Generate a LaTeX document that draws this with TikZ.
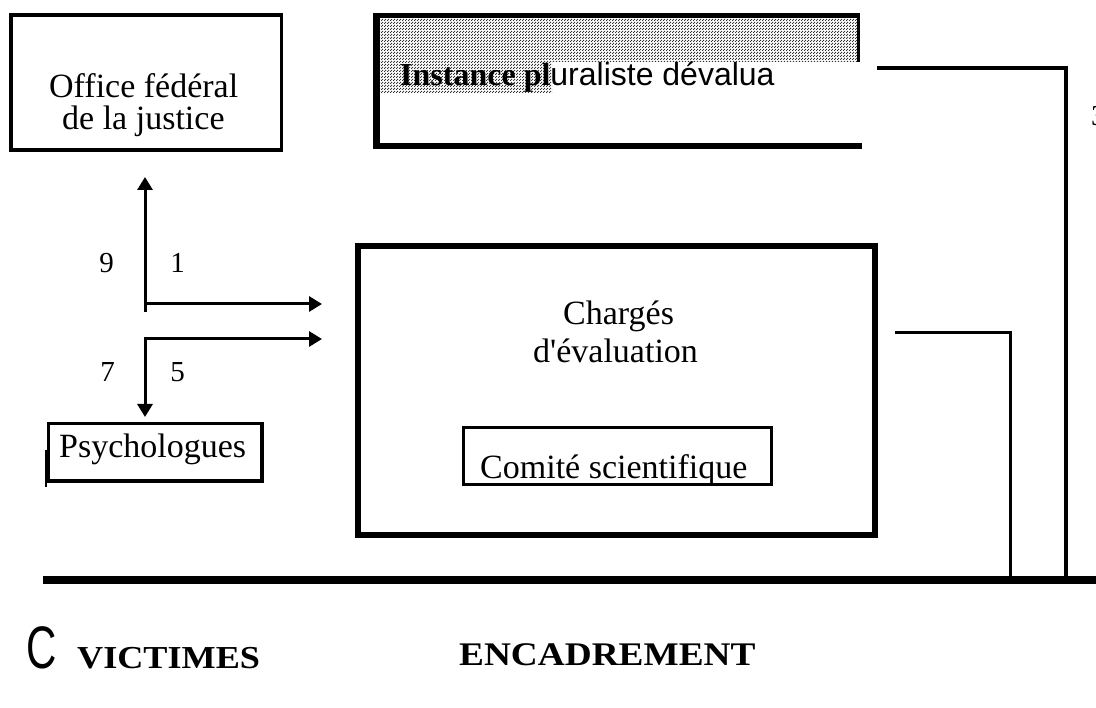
\documentclass[tikz,border=0pt]{standalone}
\usepackage{fontspec}
\setmainfont{Liberation Serif}[Ligatures=TeXOff]
\newfontfamily\arialf{Liberation Sans}
\newfontfamily\narrowsans[FakeStretch=0.7]{Liberation Sans}
\newfontfamily\wideserif[FakeStretch=1.13]{Liberation Serif}
\usetikzlibrary{arrows.meta,patterns.meta}
\pgfdeclarepattern{
  name=finedots,
  parameters={},
  bottom left={\pgfpoint{0pt}{0pt}},
  top right={\pgfpoint{3pt}{3pt}},
  tile size={\pgfpoint{3pt}{3pt}},
  code={
    \pgfpathrectangle{\pgfpoint{0pt}{0pt}}{\pgfpoint{1.4pt}{1.4pt}}
    \pgfpathrectangle{\pgfpoint{1.5pt}{1.5pt}}{\pgfpoint{1.4pt}{1.4pt}}
    \pgfusepath{fill}
  }
}
\begin{document}
\begin{tikzpicture}[x=1pt,y=-1pt,
  txt/.style={inner sep=0pt, anchor=base west, font=\fontsize{34}{38}\selectfont},
  dig/.style={inner sep=0pt, anchor=base, font=\fontsize{29}{32}\selectfont},
  thinbox/.style={draw, line width=3.3pt, inner sep=0pt},
  thickbox/.style={draw, line width=6pt, inner sep=0pt},
  arr/.style={line width=3pt, -{Triangle[length=13pt,width=15pt]}},
  conn/.style={line width=3pt},
  bigconn/.style={line width=4.5pt},
  shade/.style={pattern=finedots, pattern color=black!80}
]
\useasboundingbox (0,0) rectangle (1096,708);

% Office fédéral de la justice
\node[thinbox, minimum width=270.5pt, minimum height=135pt] (office) at (146.25,82.5) {};
\node[txt] (officeA) at (49,98) {Office fédéral};
\node[txt] (officeB) at (62,130) {de la justice};

% Instance pluraliste
\fill[shade] (380,18) -- (857,18) -- (857,62) -- (552,62) -- (552,93) -- (380,93) -- cycle;
\draw[line width=5pt] (373,15.8) -- (860,15.8);
\draw[line width=6.5pt] (376.5,13) -- (376.5,149);
\draw[line width=3pt] (858.5,13) -- (858.5,62);
\draw[line width=6pt] (373,146) -- (862,146);
\node[inner sep=0pt, anchor=base west, font=\fontsize{32}{36}\selectfont] (inst) at (400,86)
  {{\bfseries Instance pl}{\arialf uraliste dévalua}};
\node[dig, anchor=base west] (three) at (1091,126) {3};

% Chargés d'évaluation
\node[thickbox, minimum width=517.5pt, minimum height=288.5pt] (charges) at (616.25,390.75) {};
\node[txt] (chargesA) at (563,325) {Chargés};
\node[txt] (chargesB) at (533,363) {d'évaluation};

% Comité scientifique
\node[thinbox, line width=3pt, minimum width=308.4pt, minimum height=56.6pt] (comite) at (617.5,456) {};
\node[txt] (comiteT) at (480,479) {Comité scientifique};

% Psychologues
\node[thinbox, minimum width=213.5pt, minimum height=57.7pt] (psy) at (155.25,452.15) {};
\node[txt] (psyT) at (59,458) {Psychologues};
\draw[line width=1.3pt] (46,450) -- (46,487);

% arrows
\coordinate (c1b) at (145,312);
\coordinate (c1) at (143.5,304);
\coordinate (t9) at (145,177);
\coordinate (t1) at (322,304);
\coordinate (c2) at (145,339);
\coordinate (t5) at (322,339);
\coordinate (t7) at (145,417);
\draw[arr] (c1b) -- (t9);
\draw[arr] (c1) -- (t1);
\draw[line width=3pt, {Triangle[length=13pt,width=15pt]}-{Triangle[length=13pt,width=15pt]}] (t5) -- (c2) -- (t7);

\node[dig] (n9) at (106.5,273) {9};
\node[dig] (n1) at (177.5,273) {1};
\node[dig] (n7) at (107.5,382) {7};
\node[dig] (n5) at (177.5,382) {5};

% connectors to the base line
\coordinate (bl0) at (43,580);
\coordinate (bl1) at (1096,580);
\coordinate (i3) at (877,68);
\coordinate (b3) at (1066,580);
\coordinate (c3) at (895,333);
\coordinate (b2) at (1010,580);
\draw[bigconn] (i3) -| (b3);
\draw[conn] (c3) -| (b2);
\draw[line width=7pt] (bl0) -- (bl1);

% bottom labels
\node[inner sep=0pt, anchor=base west, font=\fontsize{60}{64}\selectfont\narrowsans] (cC) at (26,668) {C};
\node[inner sep=0pt, anchor=base west, font=\fontsize{32}{36}\selectfont\wideserif\bfseries] (vict) at (77,668) {VICTIMES};
\node[inner sep=0pt, anchor=base west, font=\fontsize{33}{36}\selectfont\wideserif\bfseries] (enc) at (459,665) {ENCADREMENT};
\end{tikzpicture}
\end{document}
